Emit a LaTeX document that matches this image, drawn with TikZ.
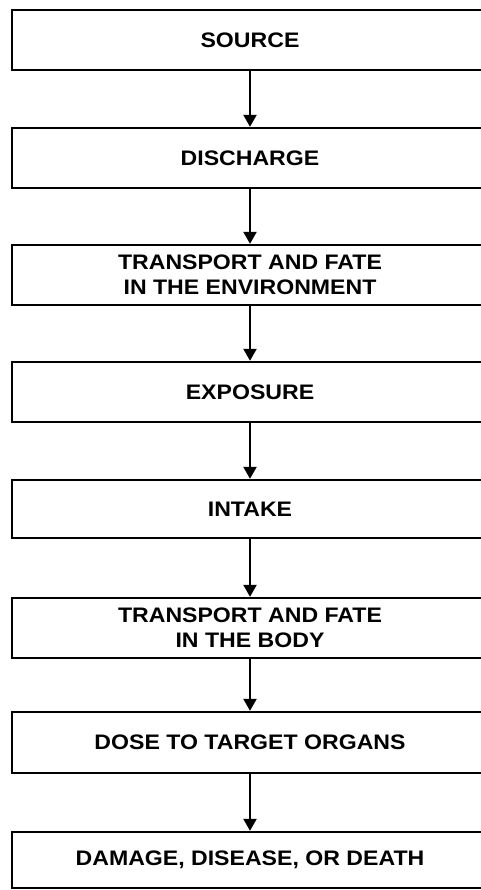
\documentclass[tikz,border=0pt]{standalone}
\usepackage{fontspec}
\setmainfont[FakeStretch=1.1]{Liberation Sans}
\usetikzlibrary{arrows.meta}

\tikzset{
  stage/.style={draw,line width=2.4pt,minimum width=476pt,minimum height=60pt,
    inner sep=0pt,align=center,font=\bfseries\fontsize{21}{25}\selectfont},
  flow/.style={line width=2.4pt,-{Triangle[width=13pt,length=12pt]}}
}

\begin{document}
\begin{tikzpicture}[x=1pt,y=1pt]
\path[use as bounding box] (0,0) rectangle (481,-890);
\clip (0,0) rectangle (481,-890);
\node[stage] (source) at (250,-40) {SOURCE};
\node[stage] (discharge) at (250,-158) {DISCHARGE};
\node[stage] (envfate) at (250,-275) {TRANSPORT AND FATE\\IN THE ENVIRONMENT};
\node[stage] (exposure) at (250,-392) {EXPOSURE};
\node[stage,minimum height=58pt] (intake) at (250,-509) {INTAKE};
\node[stage] (bodyfate) at (250,-628) {TRANSPORT AND FATE\\IN THE BODY};
\node[stage,minimum height=61pt] (dose) at (250,-742.5) {DOSE TO TARGET ORGANS};
\node[stage,minimum height=56pt] (damage) at (250,-860) {DAMAGE, DISEASE, OR DEATH};

\draw[flow] (source) -- (discharge);
\draw[flow] (discharge) -- (envfate);
\draw[flow] (envfate) -- (exposure);
\draw[flow] (exposure) -- (intake);
\draw[flow] (intake) -- (bodyfate);
\draw[flow] (bodyfate) -- (dose);
\draw[flow] (dose) -- (damage);
\end{tikzpicture}
\end{document}
